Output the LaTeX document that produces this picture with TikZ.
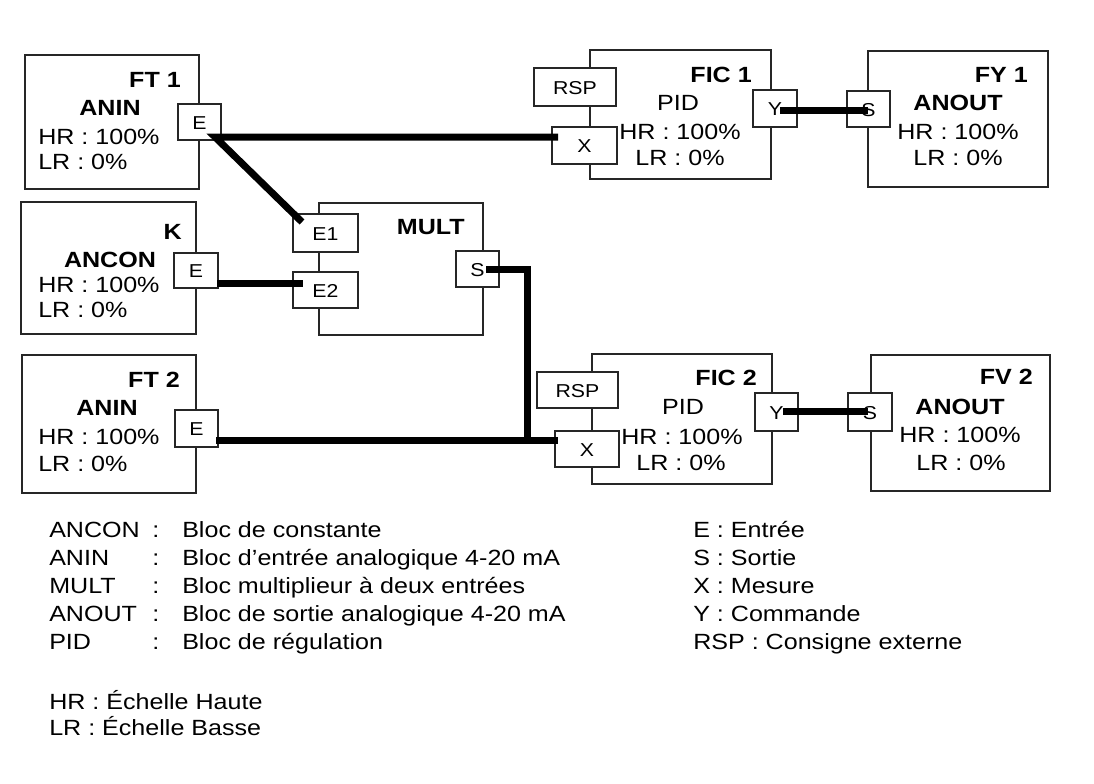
\documentclass[tikz,border=0pt]{standalone}
\usepackage{fontspec}
\setmainfont{Liberation Sans}[FakeStretch=1.14]
\usetikzlibrary{calc}
\begin{document}
\begin{tikzpicture}[x=0.75pt,y=-0.75pt,
  blk/.style 2 args={draw=black!85, line width=1.1pt, fill=white, inner sep=0pt, outer sep=0pt, minimum width=#1*0.75pt, minimum height=#2*0.75pt, anchor=north west},
  port/.style 2 args={draw=black!85, line width=1.1pt, fill=white, inner sep=0pt, outer sep=0pt, minimum width=#1*0.75pt, minimum height=#2*0.75pt, anchor=north west, font=\fontsize{14}{16}\selectfont, text height=1.05em, text depth=0pt},
  ttl/.style={font=\fontsize{16.5}{19}\selectfont\bfseries, inner sep=0pt},
  txt/.style={font=\fontsize{16.5}{19}\selectfont, inner sep=0pt},
  leg/.style={font=\fontsize{16.5}{20}\selectfont, inner sep=0pt, anchor=base west},
  wire/.style={line width=5.25pt, black, line join=miter}]
\useasboundingbox[fill=white] (0,0) rectangle (1094,783);
% blocks
\node[blk={174}{134}] (ft1) at (25,55) {};
\node[blk={175}{132}] (k) at (21,202) {};
\node[blk={174}{138}] (ft2) at (22,355) {};
\node[blk={164}{132}] (mult) at (319,203) {};
\node[blk={181}{129}] (fic1) at (590,50) {};
\node[blk={180}{136}] (fy1) at (868,51) {};
\node[blk={180}{130}] (fic2) at (592,354) {};
\node[blk={179}{136}] (fv2) at (871,355) {};
% ports
\node[port={43}{36}] (ft1E) at (178,104) {E};
\node[port={44}{35}] (kE) at (174,253) {E};
\node[port={43}{37}] (ft2E) at (175,410) {E};
\node[port={65}{38}] (mE1) at (293,214) {E1};
\node[port={65}{36}] (mE2) at (293,272) {E2};
\node[port={43}{36}] (mS) at (456,251) {S};
\node[port={82}{38}] (f1R) at (534,68) {RSP};
\node[port={65}{37}] (f1X) at (552,127) {X};
\node[port={44}{37}] (f1Y) at (753,90) {Y};
\node[port={43}{36}] (y1S) at (847,91) {S};
\node[port={81}{36}] (f2R) at (537,372) {RSP};
\node[port={64}{36}] (f2X) at (555,431) {X};
\node[port={43}{38}] (f2Y) at (755,393) {Y};
\node[port={44}{38}] (v2S) at (848,393) {S};
% texts FT1
\node[ttl, anchor=east] (ft1t) at (181,80) {FT 1};
\node[ttl] (ft1a) at (110,108) {ANIN};
\node[txt, anchor=west] (ft1h) at (38,137) {HR : 100\%};
\node[txt, anchor=west] (ft1l) at (38,162) {LR : 0\%};
% K
\node[ttl, anchor=east] (kt) at (182,232) {K};
\node[ttl] (ka) at (110,260) {ANCON};
\node[txt, anchor=west] (kh) at (38,285) {HR : 100\%};
\node[txt, anchor=west] (kl) at (38,310) {LR : 0\%};
% FT2
\node[ttl, anchor=east] (ft2t) at (180,380) {FT 2};
\node[ttl] (ft2a) at (107,408) {ANIN};
\node[txt, anchor=west] (ft2h) at (38,437) {HR : 100\%};
\node[txt, anchor=west] (ft2l) at (38,464) {LR : 0\%};
% MULT
\node[ttl, anchor=east] (mt) at (465,227) {MULT};
% FIC1
\node[ttl, anchor=east] (f1t) at (752,75) {FIC 1};
\node[txt] (f1p) at (678,103) {PID};
\node[txt] (f1h) at (680,132) {HR : 100\%};
\node[txt] (f1l) at (680,158) {LR : 0\%};
% FY1
\node[ttl, anchor=east] (y1t) at (1028,75) {FY 1};
\node[ttl] (y1a) at (958,103) {ANOUT};
\node[txt] (y1h) at (958,132) {HR : 100\%};
\node[txt] (y1l) at (958,158) {LR : 0\%};
% FIC2
\node[ttl, anchor=east] (f2t) at (757,378) {FIC 2};
\node[txt] (f2p) at (683,407) {PID};
\node[txt] (f2h) at (682,437) {HR : 100\%};
\node[txt] (f2l) at (681,463) {LR : 0\%};
% FV2
\node[ttl, anchor=east] (v2t) at (1033,377) {FV 2};
\node[ttl] (v2a) at (960,407) {ANOUT};
\node[txt] (v2h) at (960,435) {HR : 100\%};
\node[txt] (v2l) at (961,463) {LR : 0\%};
% wires
\coordinate (jn) at (527,440);
\draw[wire] ($(f1X.north west)+(6,10)$) -- ($(ft1E.south east)+(-6,-3)$) -- ($(mE1.north west)+(9,8)$);
\draw[wire] ($(kE.south east)+(-1,-5)$) -- ($(mE2.north west)+(10,11)$);
\draw[wire] ($(mS.east)+(-13,0)$) -| (jn);
\draw[wire] ($(ft2E.south east)+(-2,-7)$) -- ($(f2X.north west)+(3,9)$);
\draw[wire] ($(f1Y.north west)+(27,20)$) -- ($(y1S.north west)+(21,19)$);
\draw[wire] ($(f2Y.north west)+(28,18)$) -- ($(v2S.north west)+(20,18)$);
% legend left
\node[leg] (la1) at (49,537) {ANCON};
\node[leg] (lc1) at (152,537) {:};
\node[leg] (ld1) at (182,537) {Bloc de constante};
\node[leg] (la2) at (49,565) {ANIN};
\node[leg] (lc2) at (152,565) {:};
\node[leg] (ld2) at (182,565) {Bloc d’entrée analogique 4-20 mA};
\node[leg] (la3) at (49,593) {MULT};
\node[leg] (lc3) at (152,593) {:};
\node[leg] (ld3) at (182,593) {Bloc multiplieur à deux entrées};
\node[leg] (la4) at (49,621) {ANOUT};
\node[leg] (lc4) at (152,621) {:};
\node[leg] (ld4) at (182,621) {Bloc de sortie analogique 4-20 mA};
\node[leg] (la5) at (49,649) {PID};
\node[leg] (lc5) at (152,649) {:};
\node[leg] (ld5) at (182,649) {Bloc de régulation};
\node[leg] (lhr) at (49,709) {HR : Échelle Haute};
\node[leg] (llr) at (49,735) {LR : Échelle Basse};
% legend right
\node[leg] (r1) at (693,537) {E : Entrée};
\node[leg] (r2) at (693,565) {S : Sortie};
\node[leg] (r3) at (693,593) {X : Mesure};
\node[leg] (r4) at (693,621) {Y : Commande};
\node[leg] (r5) at (693,649) {RSP : Consigne externe};
\end{tikzpicture}
\end{document}
